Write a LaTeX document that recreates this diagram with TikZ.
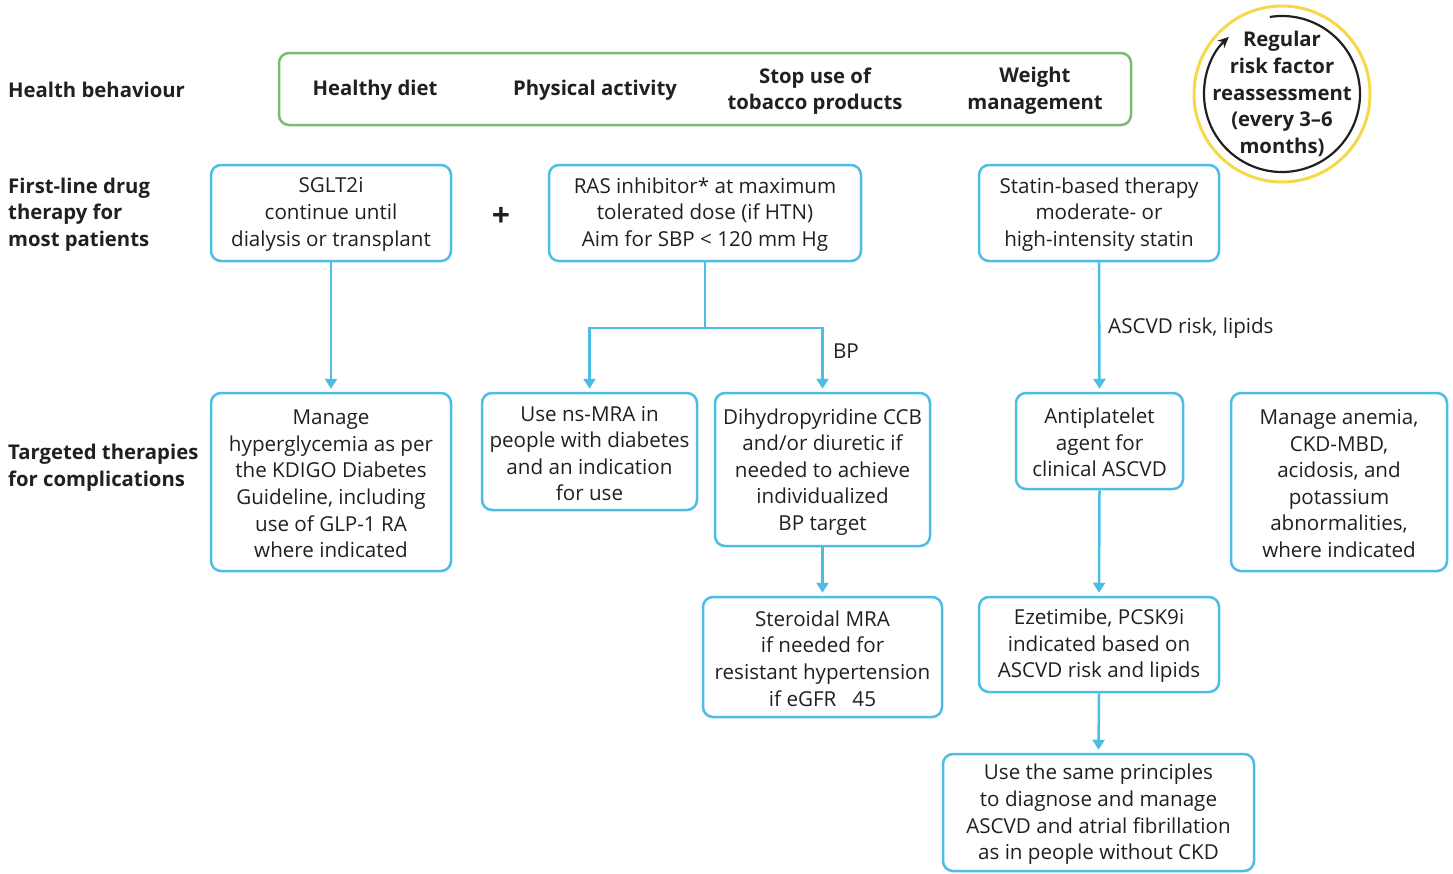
\documentclass[tikz,border=0pt]{standalone}
\usepackage{fontspec}
\setmainfont{Open Sans}
\usetikzlibrary{arrows.meta}
\definecolor{txt}{HTML}{231F20}
\definecolor{bl}{HTML}{4DBDE6}
\definecolor{gr}{HTML}{7DBA6F}
\definecolor{yl}{HTML}{F5D94A}
\begin{document}
\begin{tikzpicture}[x=1pt,y=-1pt,
  every node/.style={text=txt, font=\fontsize{20.6}{26.6}\selectfont, align=center, inner sep=0pt},
  box/.style={draw=bl, line width=2.5pt, rounded corners=10pt},
  link/.style={draw=bl, line width=2.5pt},
  conn/.style={draw=bl, line width=2.5pt, -{Triangle[width=12pt,length=10pt]}, shorten >=3pt},
  head/.style={font=\fontsize{20.3}{26.6}\selectfont\bfseries, align=left, anchor=west},
  bold/.style={font=\fontsize{20.3}{26.6}\selectfont\bfseries}]
\useasboundingbox (0,0) rectangle (1453,873);

% row headings
\node[head] (h1) at (8,90) {Health behaviour};
\node[head] (h2) at (8,214.5) {First-line drug\\therapy for\\most patients};
\node[head] (h3) at (8,467.5) {Targeted therapies\\for complications};

% health behaviour box
\node[draw=gr, line width=2.5pt, rounded corners=10pt, minimum width=852, minimum height=72] (hb) at (705,89) {};
\node[bold] (hb1) at (375,90) {Healthy diet};
\node[bold] (hb2) at (595,90) {Physical activity};
\node[bold] (hb3) at (815,91) {Stop use of\\tobacco products};
\node[bold] (hb4) at (1035,91) {Weight\\management};

% reassessment circle
\draw[yl, line width=3pt] (1282,94) circle (88);
\draw[txt, line width=2.2pt, -{Stealth[length=11pt,width=10pt]}] ([shift={(-99:78)}]1282,94) arc[start angle=-99, end angle=227, radius=78];
\node[bold] (circ) at (1282,94) {Regular\\risk factor\\reassessment\\(every 3–6\\months)};

% first line
\node[box, minimum width=240, minimum height=96] (sglt) at (331,213) {};
\node (sgltt) at (331,214.5) {SGLT2i\\continue until\\dialysis or transplant};
\node[font=\fontsize{32}{32}\selectfont\bfseries] (plus) at (501,217) {+};
\node[box, minimum width=312, minimum height=96] (ras) at (705,213) {};
\node (rast) at (705,214.5) {RAS inhibitor* at maximum\\tolerated dose (if HTN)\\Aim for SBP < 120 mm Hg};
\node[box, minimum width=240, minimum height=96] (stat) at (1099,213) {};
\node (statt) at (1099,214.5) {Statin-based therapy\\moderate- or\\high-intensity statin};

% targeted therapies
\node[box, minimum width=240, minimum height=178] (hyper) at (331,482) {};
\node (hypert) at (331,484) {Manage\\hyperglycemia as per\\the KDIGO Diabetes\\Guideline, including\\use of GLP-1 RA\\where indicated};
\node[box, minimum width=215, minimum height=117] (nsmra) at (589.5,451.5) {};
\node (nsmrat) at (589.5,453.5) {Use ns-MRA in\\people with diabetes\\and an indication\\for use};
\node[box, minimum width=215, minimum height=153] (dhp) at (822.5,469.5) {};
\node (dhpt) at (822.5,472) {Dihydropyridine CCB\\and/or diuretic if\\needed to achieve\\individualized\\BP target};
\node[box, minimum width=167, minimum height=96] (anti) at (1099.5,441) {};
\node (antit) at (1099.5,442.5) {Antiplatelet\\agent for\\clinical ASCVD};
\node[box, minimum width=216, minimum height=178] (anem) at (1339,482) {};
\node (anemt) at (1339,483.5) {Manage anemia,\\CKD-MBD,\\acidosis, and\\potassium\\abnormalities,\\where indicated};
\node[box, minimum width=239, minimum height=120] (ster) at (822.5,657) {};
\node (stert) at (822.5,658.5) {Steroidal MRA\\if needed for\\resistant hypertension\\if eGFR \ \ 45};
\node[box, minimum width=240, minimum height=95] (ezet) at (1099,644.5) {};
\node (ezett) at (1099,646) {Ezetimibe, PCSK9i\\indicated based on\\ASCVD risk and lipids};
\node[box, minimum width=311, minimum height=117] (same) at (1098.5,812.5) {};
\node (samet) at (1098.5,814.5) {Use the same principles\\to diagnose and manage\\ASCVD and atrial fibrillation\\as in people without CKD};

% connectors
\draw[conn] (sglt.south) -- (hyper.north);
\coordinate (split) at (705,328);
\draw[link] (ras.south) -- (split);
\draw[conn] (split) -| (nsmra.north);
\draw[conn] (split) -| (dhp.north);
\node (bp) at (846,351) {BP};
\draw[conn] (dhp.south) -- (ster.north);
\draw[conn] (stat.south) -- (anti.north);
\node[anchor=west] (asc) at (1108,328) {ASCVD risk, lipids};
\draw[conn] (anti.south) -- (ezet.north);
\draw[conn] (ezet.south) -- (same.north);
\end{tikzpicture}
\end{document}
